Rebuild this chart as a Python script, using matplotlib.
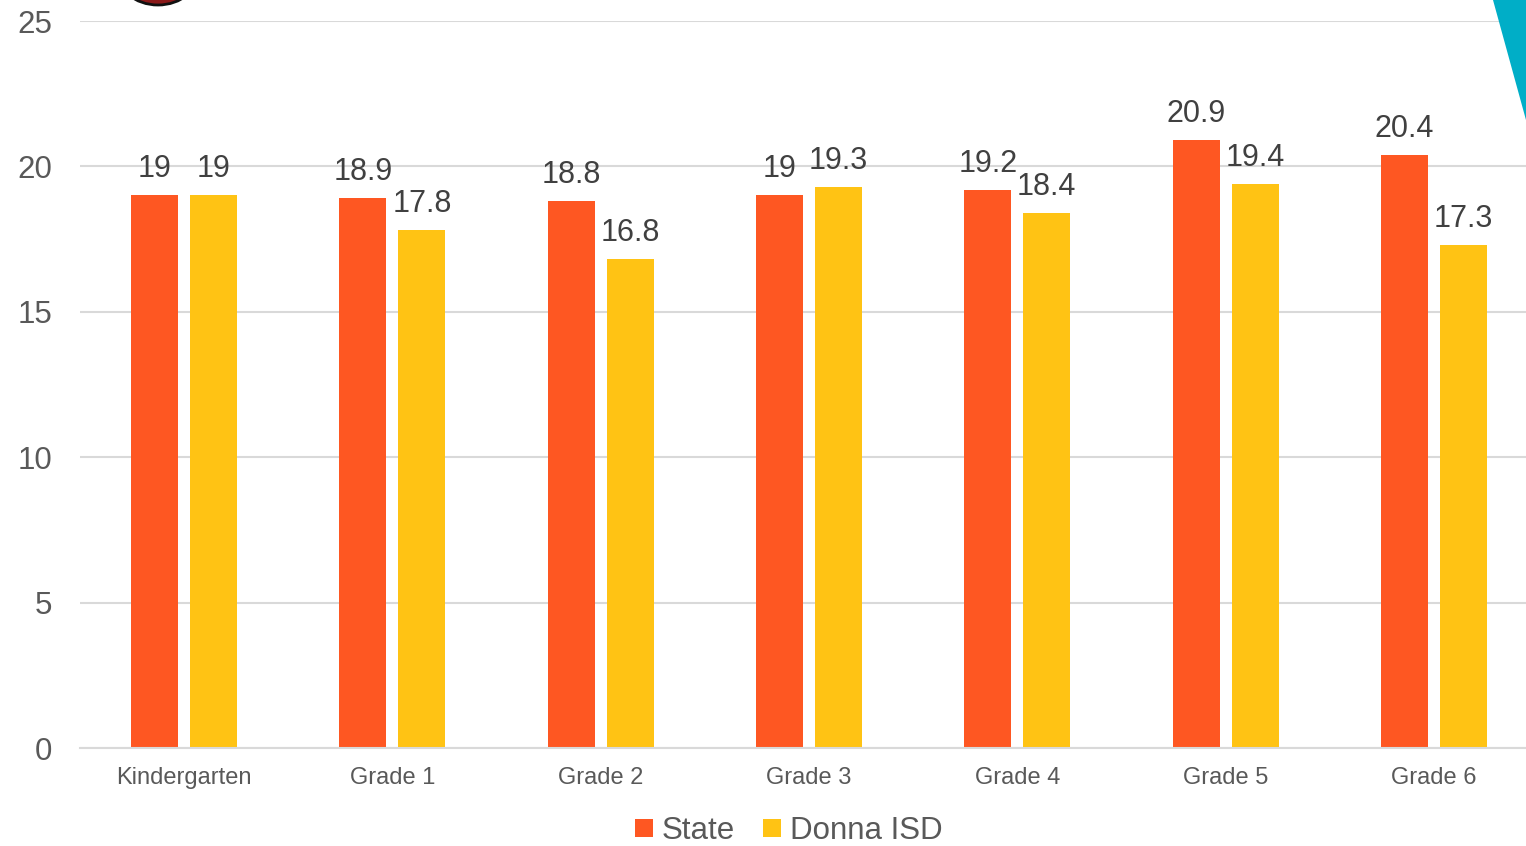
import numpy as np
from matplotlib import pyplot as plt
from matplotlib.patches import Polygon, Ellipse

plt.rcParams['font.family'] = ['Liberation Sans', 'DejaVu Sans']

# data
grades = ['Kindergarten', 'Grade 1', 'Grade 2', 'Grade 3', 'Grade 4', 'Grade 5', 'Grade 6']
state = [19, 18.9, 18.8, 19, 19.2, 20.9, 20.4]
donna = [19, 17.8, 16.8, 19.3, 18.4, 19.4, 17.3]
y_ticks = [0, 5, 10, 15, 20, 25]

c_state = '#FE5722'
c_donna = '#FFC314'
grey_txt = '#595959'
grid_c = '#D9D9D9'

W, H = 1526, 846
fig = plt.figure(figsize=(W / 100, H / 100), dpi=100)

# slide decorations behind the chart
fig.patches.append(Polygon([[1493 / W, 1.0], [1.0, 1.0], [1.0, 1 - 120 / H]],
                           closed=True, transform=fig.transFigure,
                           facecolor='#00AEC7', edgecolor='none', zorder=0))
fig.patches.append(Ellipse((158 / W, 1 + 30 / H), 84 / W, 70 / H,
                           transform=fig.transFigure, facecolor='#8B1A1A',
                           edgecolor='#111111', linewidth=2, zorder=0))

ax = fig.add_axes([80 / W, (H - 748) / H, 1458 / W, 727 / H])
ax.set_facecolor('none')

x = np.arange(len(grades))
bw = 0.2256
off = 0.1416
b1 = ax.bar(x - off, state, bw, color=c_state, label='State', zorder=2)
b2 = ax.bar(x + off, donna, bw, color=c_donna, label='Donna ISD', zorder=2)

for bars, vals in ((b1, state), (b2, donna)):
    for b, v in zip(bars, vals):
        lab = ('%g' % v)
        ax.annotate(lab, (b.get_x() + b.get_width() / 2, v), xytext=(0, 8),
                    textcoords='offset points', ha='center', va='bottom',
                    fontsize=22, color='#404040')

ax.set_xlim(-0.5, len(grades) - 0.5)
ax.set_ylim(0, 25)
ax.set_yticks(y_ticks)
ax.set_xticks(x)
ax.set_xticklabels(grades)
ax.yaxis.grid(True, color=grid_c, linewidth=1.5, zorder=0)
ax.set_axisbelow(True)
for s in ['top', 'right', 'left']:
    ax.spines[s].set_visible(False)
ax.spines['bottom'].set_color(grid_c)
ax.spines['bottom'].set_linewidth(1.5)
ax.tick_params(axis='both', length=0, colors=grey_txt)
ax.tick_params(axis='y', labelsize=22.5, pad=20)
ax.tick_params(axis='x', labelsize=17, pad=14)
for t in ax.get_yticklabels():
    t.set_horizontalalignment('right')

leg = fig.legend(loc='center', bbox_to_anchor=(789 / W, 1 - 831 / H), ncol=2,
                 frameon=False, fontsize=22.5, handlelength=0.55, handleheight=0.55,
                 handletextpad=0.3, columnspacing=0.9, labelcolor=grey_txt,
                 borderpad=0.1)

fig.savefig('out.png', dpi=100)
